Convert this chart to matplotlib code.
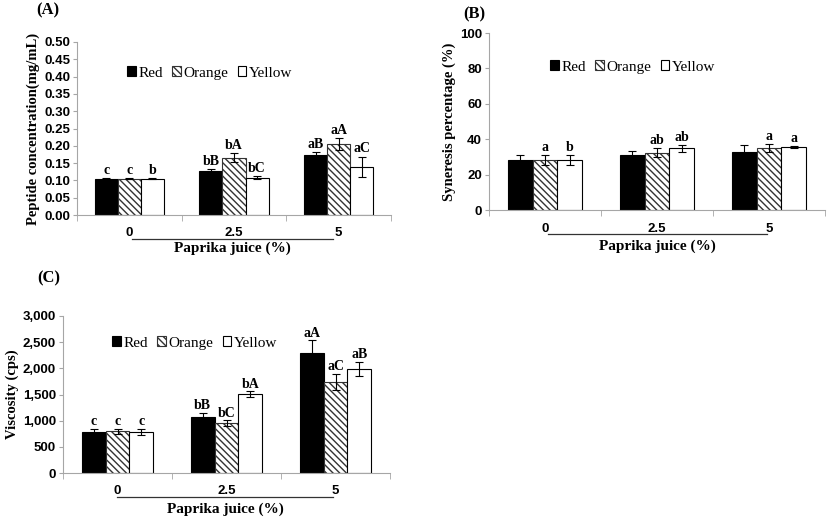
import numpy as np
import matplotlib
matplotlib.use("Agg")
import matplotlib.pyplot as plt
from matplotlib.lines import Line2D
from matplotlib.ticker import FuncFormatter

#
# Data
#

juice = ["0", "2.5", "5"]
series = ["Red", "Orange", "Yellow"]

peptide = [[0.105, 0.128, 0.174],
           [0.105, 0.166, 0.205],
           [0.105, 0.108, 0.139]]
peptide_err = [[0.002, 0.006, 0.008],
               [0.002, 0.012, 0.017],
               [0.002, 0.005, 0.030]]
peptide_lab = [["c", "bB", "aB"],
               ["c", "bA", "aA"],
               ["b", "bC", "aC"]]

syneresis = [[28.3, 31.3, 33.0],
             [28.3, 32.3, 35.0],
             [28.3, 34.8, 35.6]]
syneresis_err = [[3.0, 2.0, 3.5],
                 [3.0, 2.5, 2.5],
                 [3.0, 2.0, 0.5]]
syneresis_lab = [["", "", ""],
                 ["a", "ab", "a"],
                 ["b", "ab", "a"]]

viscosity = [[790, 1065, 2290],
             [795, 955, 1740],
             [790, 1510, 1990]]
viscosity_err = [[60, 80, 245],
                 [55, 50, 150],
                 [55, 50, 130]]
viscosity_lab = [["c", "bB", "aA"],
                 ["c", "bC", "aC"],
                 ["c", "bA", "aB"]]

W, H = 827, 518
SERIF = "Liberation Serif"
SANS = "Liberation Sans"
GRAY = "#a6a6a6"

fig = plt.figure(figsize=(W / 100, H / 100), dpi=100)


def box(x0, y0, x1, y1):
    # pixel box (top-left origin) -> figure fraction rect
    return [x0 / W, 1 - y1 / H, (x1 - x0) / W, (y1 - y0) / H]


def fxy(x, y):
    return x / W, 1 - y / H


def panel(rect, vals, errs, labs, ymax, ystep, ylabel, fmt, tag, tagpos,
          legpos, line, xlab_y, lab_off):
    ax = fig.add_axes(rect)
    x = np.arange(len(juice))
    bw = 0.22
    styles = [dict(color="black", edgecolor="black"),
              dict(color="white", edgecolor="#333333", hatch="\\\\\\\\\\"),
              dict(color="white", edgecolor="black")]
    for i, name in enumerate(series):
        xs = x + (i - 1) * bw
        ax.bar(xs, vals[i], bw, yerr=errs[i], label=name, linewidth=0.8,
               error_kw=dict(ecolor="black", elinewidth=0.8, capsize=3, capthick=0.8),
               **styles[i])
        for xi, v, e, t in zip(xs, vals[i], errs[i], labs[i]):
            ax.text(xi, v + e + lab_off, t, ha="center", va="bottom",
                    family=SERIF, weight="bold", fontsize=10)
    ax.set_xlim(-0.5, len(juice) - 0.5)
    ax.set_ylim(0, ymax)
    ax.set_yticks(np.arange(0, ymax + ystep / 2, ystep))
    ax.yaxis.set_major_formatter(FuncFormatter(fmt))
    ax.set_xticks(x)
    ax.set_xticklabels(juice)
    ax.set_xticks(np.arange(-0.5, len(juice)), minor=True)
    ax.tick_params(axis="x", which="major", length=0, pad=9)
    ax.tick_params(axis="x", which="minor", length=4, color=GRAY, direction="out")
    ax.tick_params(axis="y", length=3, color=GRAY, pad=2)
    for lbl in ax.get_xticklabels() + ax.get_yticklabels():
        lbl.set_family(SANS)
        lbl.set_weight("bold")
        lbl.set_fontsize(9.5)
    for s in ["top", "right"]:
        ax.spines[s].set_visible(False)
    for s in ["left", "bottom"]:
        ax.spines[s].set_color(GRAY)
    ax.set_ylabel(ylabel, family=SERIF, weight="bold", fontsize=10.5, labelpad=3)

    ax.legend(loc="center", bbox_to_anchor=fxy(*legpos),
              bbox_transform=fig.transFigure, ncol=3, frameon=False,
              handlelength=0.55, handleheight=0.55, handletextpad=0.2,
              columnspacing=0.6, borderpad=0,
              prop=dict(family=SERIF, size=11))
    fig.text(*fxy(*tagpos), tag, family=SERIF, weight="bold", fontsize=12,
             ha="center", va="center")
    (lx0, lx1, ly) = line
    fig.add_artist(Line2D([lx0 / W, lx1 / W], [1 - ly / H, 1 - ly / H],
                          color="#333333", linewidth=0.9))
    fig.text(*fxy((lx0 + lx1) / 2, xlab_y), "Paprika juice (%)", family=SERIF,
             weight="bold", fontsize=11, ha="center", va="center")
    return ax


panel(box(77, 42, 391, 215), peptide, peptide_err, peptide_lab, 0.5, 0.05,
      "Peptide concentration(mg/mL)", lambda v, p: f"{v:.2f}",
      "(A)", (48, 10), (210, 73), (132, 333, 239), 248, 0.003)

panel(box(489, 33, 825, 210), syneresis, syneresis_err, syneresis_lab, 100, 20,
      "Syneresis percentage (%)", lambda v, p: f"{v:.0f}",
      "(B)", (474, 14), (633, 67), (548, 767, 234), 246, 0.6)

panel(box(63, 316, 390, 473), viscosity, viscosity_err, viscosity_lab, 3000, 500,
      "Viscosity (cps)", lambda v, p: f"{v:,.0f}",
      "(C)", (49, 278), (195, 343), (117, 333, 497), 509, 15)

fig.savefig("out.png", dpi=100)
